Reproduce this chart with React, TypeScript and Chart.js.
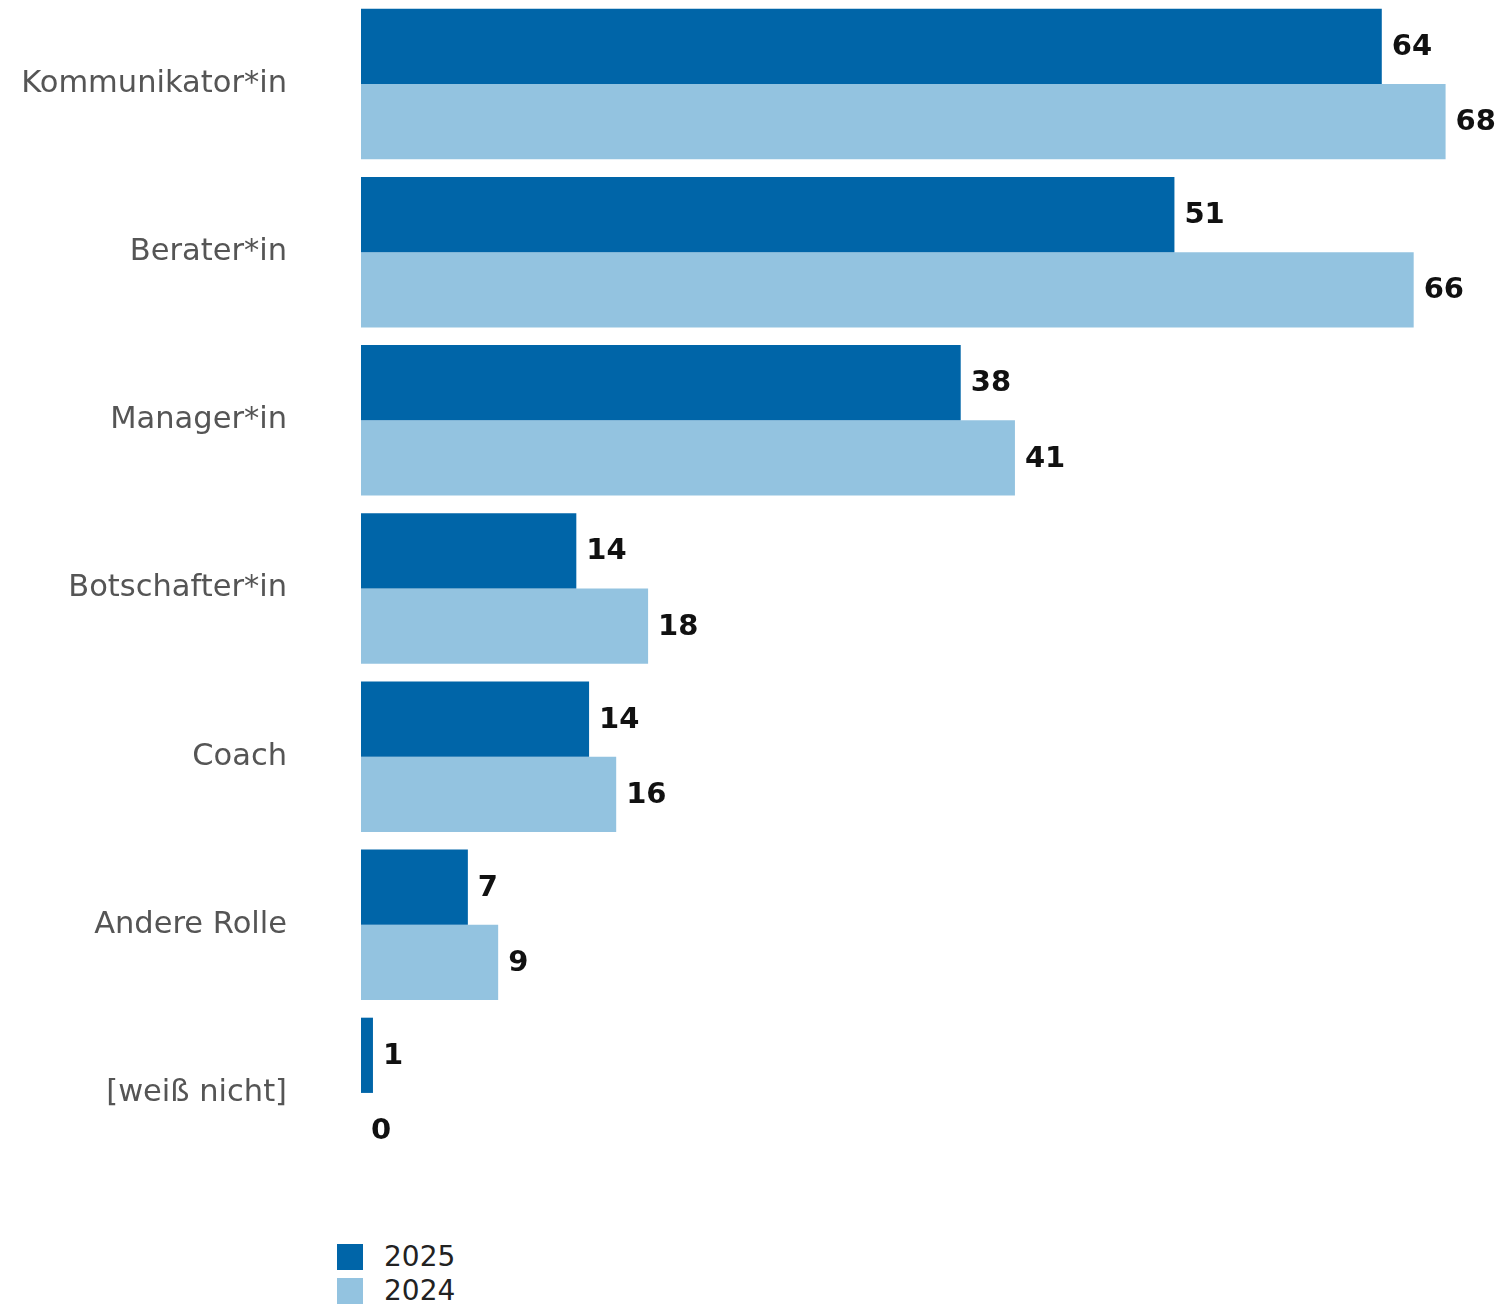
import React, { useEffect, useRef } from "react";
import { Chart, registerables } from "chart.js";

Chart.register(...registerables);

const categories = [
  "Kommunikator*in",
  "Berater*in",
  "Manager*in",
  "Botschafter*in",
  "Coach",
  "Andere Rolle",
  "[weiß nicht]",
];
const values2025 = [64, 51, 37.6, 13.5, 14.3, 6.7, 0.75];
const values2024 = [68, 66, 41, 18, 16, 8.6, 0];
const seriesLabels = ["2025", "2024"];
const colors = ["#0065A8", "#93C3E0"];

const FONT = "'DejaVu Sans', sans-serif";

const valueLabelPlugin = {
  id: "valueLabels",
  afterDatasetsDraw(chart: any) {
    const ctx = chart.ctx;
    ctx.save();
    ctx.font = `bold 29px ${FONT}`;
    ctx.fillStyle = "#111111";
    ctx.textAlign = "left";
    ctx.textBaseline = "middle";
    chart.data.datasets.forEach((ds: any, di: number) => {
      const meta = chart.getDatasetMeta(di);
      meta.data.forEach((el: any, i: number) => {
        const v = ds.data[i] as number;
        ctx.fillText(String(Math.round(v)), el.x + 10, el.y + 1);
      });
    });
    ctx.restore();
  },
};

export default function App() {
  const ref = useRef<HTMLCanvasElement | null>(null);
  useEffect(() => {
    if (!ref.current) return;
    const chart = new Chart(ref.current, {
      type: "bar",
      data: {
        labels: categories,
        datasets: [
          {
            label: seriesLabels[0],
            data: values2025,
            backgroundColor: colors[0],
            categoryPercentage: 0.895,
            barPercentage: 1,
          },
          {
            label: seriesLabels[1],
            data: values2024,
            backgroundColor: colors[1],
            categoryPercentage: 0.895,
            barPercentage: 1,
          },
        ],
      },
      options: {
        indexAxis: "y",
        animation: false,
        responsive: false,
        maintainAspectRatio: false,
        layout: { autoPadding: false, padding: { top: -4, bottom: 13, left: 0, right: 0 } },
        plugins: {
          legend: { display: false },
          tooltip: { enabled: false },
        },
        scales: {
          x: {
            display: false,
            min: 0,
            max: 71.6,
          },
          y: {
            grid: { display: false, drawTicks: false, tickLength: 0 },
            border: { display: false },
            ticks: {
              padding: 74,
              color: "#555555",
              font: { family: FONT, size: 30.5 },
            },
            afterFit(scale: any) {
              scale.width = 361;
              scale.paddingTop = 0;
              scale.paddingBottom = 0;
            },
          },
        },
      },
      plugins: [valueLabelPlugin],
    } as any);
    return () => chart.destroy();
  }, []);

  const legendItem = (label: string, color: string, top: number) => (
    <div
      key={label}
      style={{
        position: "absolute",
        left: 337,
        top,
        height: 26,
        display: "flex",
        alignItems: "center",
      }}
    >
      <div style={{ width: 26, height: 26, background: color }} />
      <span
        style={{
          marginLeft: 21,
          fontFamily: FONT,
          fontSize: 28,
          color: "#222222",
          lineHeight: "26px",
        }}
      >
        {label}
      </span>
    </div>
  );

  return (
    <div style={{ position: "absolute", left: 0, top: 0, width: 1503, height: 1304, background: "#ffffff", overflow: "hidden" }}>
      <canvas ref={ref} width={1503} height={1190} style={{ position: "absolute", left: 0, top: 0 }} />
      {legendItem(seriesLabels[0], colors[0], 1244)}
      {legendItem(seriesLabels[1], colors[1], 1278)}
    </div>
  );
}
